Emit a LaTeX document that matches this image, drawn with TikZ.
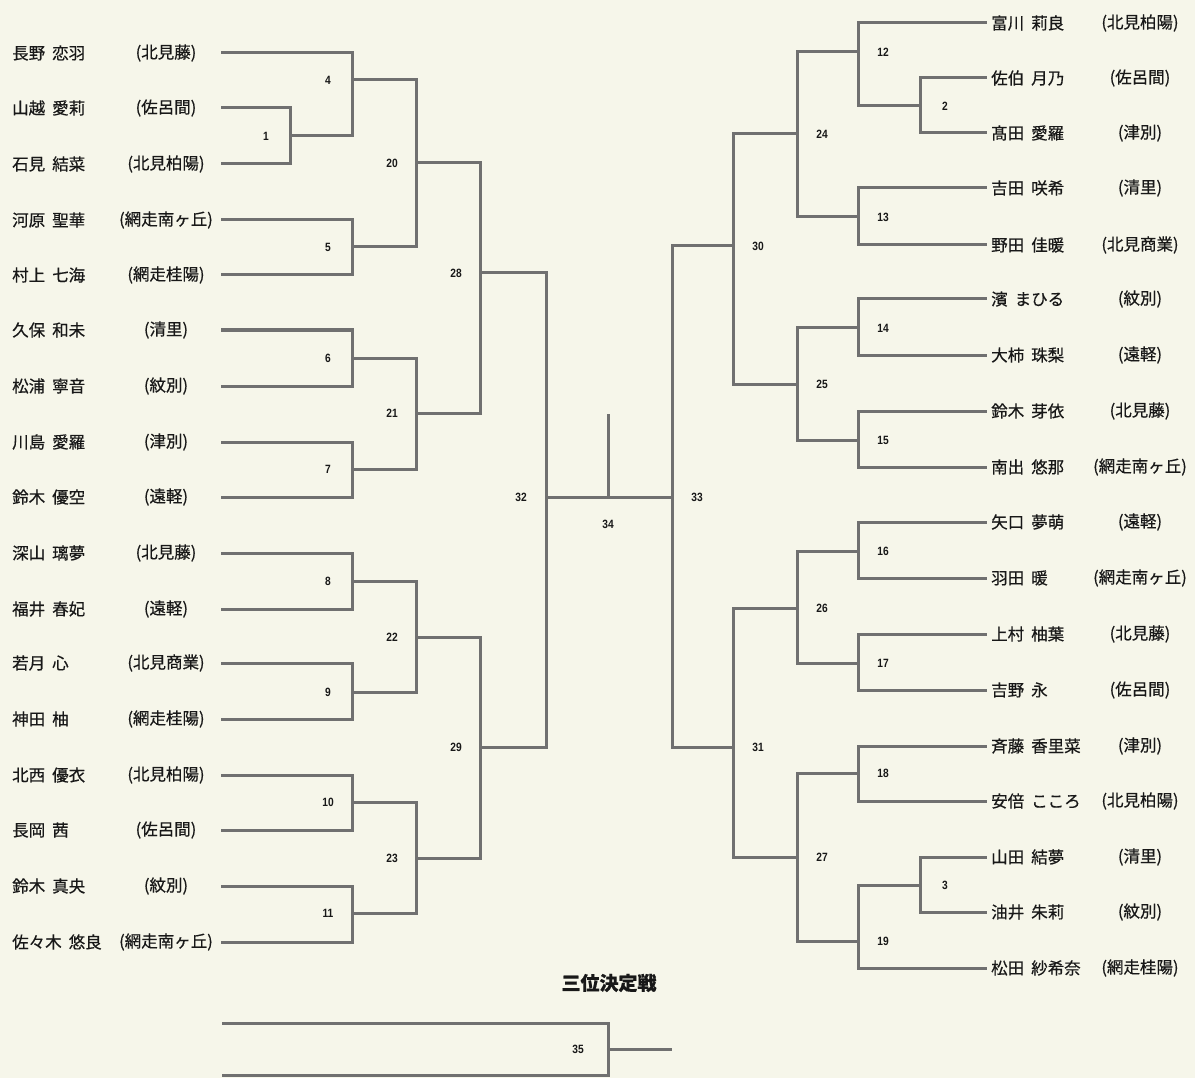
\documentclass[tikz,border=0pt]{standalone}
\usepackage{fontspec}
\setmainfont{Noto Sans CJK JP}[FakeBold=0.5]
\newfontfamily\numfont[FakeStretch=0.85]{Liberation Sans}
\definecolor{paper}{RGB}{246,246,234}
\definecolor{ink}{RGB}{24,24,24}
\definecolor{bline}{RGB}{112,112,112}
\begin{document}
\begin{tikzpicture}[x=1pt,y=-1pt,
  br/.style={draw=bline,line width=3pt,line cap=rect,line join=miter},
  pname/.style={anchor=west,inner sep=0pt,text=ink,font=\fontsize{16.5}{18}\selectfont},
  pschool/.style={anchor=center,inner sep=0pt,text=ink,font=\fontsize{16.5}{18}\selectfont},
  mnum/.style={inner sep=0pt,text=ink,font=\numfont\bfseries\fontsize{12}{13}\selectfont},
  ttl/.style={inner sep=0pt,text=ink,font=\bfseries\fontsize{19}{21}\selectfont}]
\fill[paper] (0,0) rectangle (1195,1078);
\useasboundingbox (0,0) rectangle (1195,1078);
\newcommand{\gap}{\hspace{7pt}}
% ---------- left players ----------
\foreach \i/\y/\n/\s in {
 1/53/長野\gap 恋羽/北見藤,
 2/108/山越\gap 愛莉/佐呂間,
 3/164/石見\gap 結菜/北見柏陽,
 4/220/河原\gap 聖華/網走南ヶ丘,
 5/275/村上\gap 七海/網走桂陽,
 6/330/久保\gap 和未/清里,
 7/386/松浦\gap 寧音/紋別,
 8/442/川島\gap 愛羅/津別,
 9/497/鈴木\gap 優空/遠軽,
 10/553/深山\gap 璃夢/北見藤,
 11/609/福井\gap 春妃/遠軽,
 12/663/若月\gap 心/北見商業,
 13/719/神田\gap 柚/網走桂陽,
 14/775/北西\gap 優衣/北見柏陽,
 15/830/長岡\gap 茜/佐呂間,
 16/886/鈴木\gap 真央/紋別,
 17/942/佐々木\gap 悠良/網走南ヶ丘}{
  \node[pname] (ln\i) at (12,\y) {\n};
  \node[pschool] (ls\i) at (166,\y) {(\s)};
  \coordinate (pL\i) at (222,\y);
}
% ---------- right players ----------
\foreach \i/\y/\n/\s in {
 1/23/富川\gap 莉良/北見柏陽,
 2/78/佐伯\gap 月乃/佐呂間,
 3/133/髙田\gap 愛羅/津別,
 4/188/吉田\gap 咲希/清里,
 5/245/野田\gap 佳暖/北見商業,
 6/299/濱\gap まひる/紋別,
 7/355/大柿\gap 珠梨/遠軽,
 8/411/鈴木\gap 芽依/北見藤,
 9/467/南出\gap 悠那/網走南ヶ丘,
 10/522/矢口\gap 夢萌/遠軽,
 11/578/羽田\gap 暖/網走南ヶ丘,
 12/634/上村\gap 柚葉/北見藤,
 13/690/吉野\gap 永/佐呂間,
 14/746/斉藤\gap 香里菜/津別,
 15/801/安倍\gap こころ/北見柏陽,
 16/857/山田\gap 結夢/清里,
 17/912/油井\gap 朱莉/紋別,
 18/968/松田\gap 紗希奈/網走桂陽}{
  \node[pname] (rn\i) at (991,\y) {\n};
  \node[pschool] (rs\i) at (1140,\y) {(\s)};
  \coordinate (pR\i) at (985,\y);
}
% ---------- match junctions (left) ----------
\coordinate (m1) at (290,136);
\coordinate (m4) at (352,80);
\coordinate (m5) at (352,247);
\coordinate (m20) at (416,163);
\coordinate (m6) at (352,358);
\coordinate (m7) at (352,469);
\coordinate (m21) at (416,413);
\coordinate (m28) at (480,273);
\coordinate (m8) at (352,581);
\coordinate (m9) at (352,692);
\coordinate (m22) at (416,637);
\coordinate (m10) at (352,802);
\coordinate (m11) at (352,913);
\coordinate (m23) at (416,858);
\coordinate (m29) at (480,747);
\coordinate (m32) at (546,497);
% ---------- match junctions (right) ----------
\coordinate (m2) at (920,106);
\coordinate (m12) at (858,52);
\coordinate (m13) at (858,217);
\coordinate (m24) at (797,134);
\coordinate (m14) at (858,328);
\coordinate (m15) at (858,440);
\coordinate (m25) at (797,384);
\coordinate (m30) at (733,246);
\coordinate (m16) at (858,551);
\coordinate (m17) at (858,663);
\coordinate (m26) at (797,608);
\coordinate (m18) at (858,773);
\coordinate (m3) at (920,885);
\coordinate (m19) at (858,941);
\coordinate (m27) at (797,857);
\coordinate (m31) at (733,747);
\coordinate (m33) at (672,497);
\coordinate (m34) at (608,497);
\coordinate (m34top) at (608,415);
% ---------- left bracket ----------
\draw[br] (pL2) -| (m1); \draw[br] (pL3) -| (m1);
\draw[br] (pL1) -| (m4); \draw[br] (m1) -| (m4);
\draw[br] (pL4) -| (m5); \draw[br] (pL5) -| (m5);
\draw[br] (m4) -| (m20); \draw[br] (m5) -| (m20);
\draw[br] (pL6) -| (m6); \draw[br] (pL7) -| (m6);
\draw[br] (pL8) -| (m7); \draw[br] (pL9) -| (m7);
\draw[br] (m6) -| (m21); \draw[br] (m7) -| (m21);
\draw[br] (m20) -| (m28); \draw[br] (m21) -| (m28);
\draw[br] (pL10) -| (m8); \draw[br] (pL11) -| (m8);
\draw[br] (pL12) -| (m9); \draw[br] (pL13) -| (m9);
\draw[br] (m8) -| (m22); \draw[br] (m9) -| (m22);
\draw[br] (pL14) -| (m10); \draw[br] (pL15) -| (m10);
\draw[br] (pL16) -| (m11); \draw[br] (pL17) -| (m11);
\draw[br] (m10) -| (m23); \draw[br] (m11) -| (m23);
\draw[br] (m22) -| (m29); \draw[br] (m23) -| (m29);
\draw[br] (m28) -| (m32); \draw[br] (m29) -| (m32);
% ---------- right bracket ----------
\draw[br] (pR2) -| (m2); \draw[br] (pR3) -| (m2);
\draw[br] (pR1) -| (m12); \draw[br] (m2) -| (m12);
\draw[br] (pR4) -| (m13); \draw[br] (pR5) -| (m13);
\draw[br] (m12) -| (m24); \draw[br] (m13) -| (m24);
\draw[br] (pR6) -| (m14); \draw[br] (pR7) -| (m14);
\draw[br] (pR8) -| (m15); \draw[br] (pR9) -| (m15);
\draw[br] (m14) -| (m25); \draw[br] (m15) -| (m25);
\draw[br] (m24) -| (m30); \draw[br] (m25) -| (m30);
\draw[br] (pR10) -| (m16); \draw[br] (pR11) -| (m16);
\draw[br] (pR12) -| (m17); \draw[br] (pR13) -| (m17);
\draw[br] (m16) -| (m26); \draw[br] (m17) -| (m26);
\draw[br] (pR14) -| (m18); \draw[br] (pR15) -| (m18);
\draw[br] (pR16) -| (m3); \draw[br] (pR17) -| (m3);
\draw[br] (m3) -| (m19); \draw[br] (pR18) -| (m19);
\draw[br] (m18) -| (m27); \draw[br] (m19) -| (m27);
\draw[br] (m26) -| (m31); \draw[br] (m27) -| (m31);
\draw[br] (m30) -| (m33); \draw[br] (m31) -| (m33);
% ---------- final ----------
\draw[br] (m32) -- (m33);
\draw[br] (m34) -- (m34top);
% ---------- match numbers ----------
\foreach \m/\dx/\dy in {1/-24/0,4/-24/0,5/-24/0,6/-24/0,7/-24/0,8/-24/0,9/-24/0,10/-24/0,11/-24/0,
  20/-24/0,21/-24/0,22/-24/0,23/-24/0,28/-24/0,29/-24/0,32/-25/0,
  2/25/0,3/25/0,12/25/0,13/25/0,14/25/0,15/25/0,16/25/0,17/25/0,18/25/0,19/25/0,
  24/25/0,25/25/0,26/25/0,27/25/0,30/25/0,31/25/0,33/25/0,34/0/27}{
  \node[mnum] (n\m) at ([shift={(\dx,\dy)}]m\m) {\m};
}
% ---------- third place ----------
\node[ttl] (title) at (609,983) {三位決定戦};
\coordinate (t1) at (223,1023);
\coordinate (t2) at (223,1075);
\coordinate (m35) at (608,1049);
\coordinate (t3) at (670,1049);
\draw[br] (t1) -| (m35); \draw[br] (t2) -| (m35);
\draw[br] (m35) -- (t3);
\node[mnum] (n35) at ([shift={(-30,0)}]m35) {35};
\end{tikzpicture}
\end{document}
